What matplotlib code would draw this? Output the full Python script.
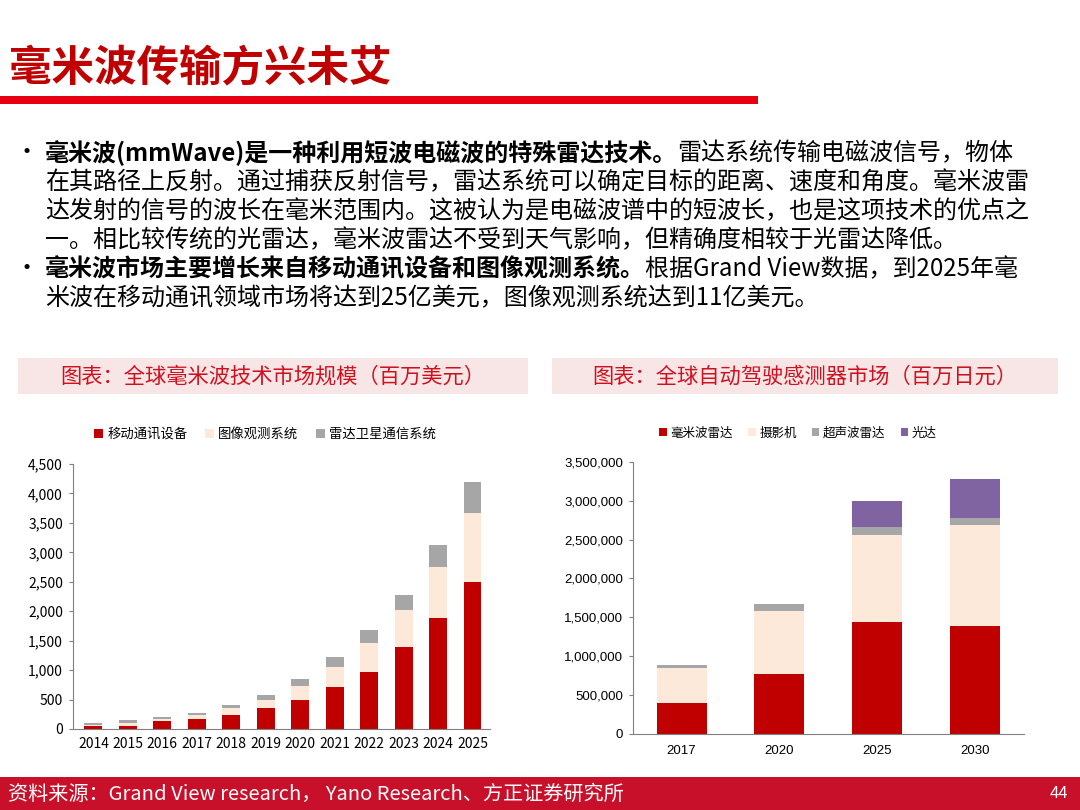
import numpy as np
import matplotlib.pyplot as plt
from matplotlib.patches import Rectangle

plt.rcParams['font.family'] = ['Noto Sans CJK SC', 'DejaVu Sans']

# 左图：全球毫米波技术市场规模（百万美元）
years_l = ['2014', '2015', '2016', '2017', '2018', '2019', '2020', '2021', '2022', '2023', '2024', '2025']
mobile = [45, 55, 130, 165, 245, 360, 500, 715, 975, 1400, 1880, 2490]
imaging = [30, 45, 40, 80, 120, 130, 225, 345, 485, 625, 875, 1180]
radar_sat = [20, 45, 40, 35, 35, 85, 125, 160, 225, 245, 370, 525]
names_l = ['移动通讯设备', '图像观测系统', '雷达卫星通信系统']

# 右图：全球自动驾驶感测器市场（百万日元）
years_r = ['2017', '2020', '2025', '2030']
mmw = [390000, 770000, 1435000, 1390000]
camera = [450000, 810000, 1130000, 1300000]
ultra = [50000, 85000, 95000, 95000]
lidar = [0, 0, 340000, 495000]
names_r = ['毫米波雷达', '摄影机', '超声波雷达', '光达']

RED = '#C00000'
PEACH = '#FDE9D9'
GRAY = '#A6A6A6'
PURPLE = '#8064A2'

fig = plt.figure(figsize=(10.8, 8.1), dpi=100)

# 标题
fig.text(9 / 1080, 1 - 68 / 810, '毫米波传输方兴未艾', fontsize=30.6, fontweight='bold',
         color=RED, va='center', ha='left')
fig.patches.append(Rectangle((0, 1 - 104 / 810), 758 / 1080, 8 / 810,
                             transform=fig.transFigure, color='#E60012', lw=0))

# 正文
fs = 17.3
line_y = [153, 182, 211, 240, 269, 298]
lines = [
    ('毫米波(mmWave)是一种利用短波电磁波的特殊雷达技术。', '雷达系统传输电磁波信号，物体'),
    ('', '在其路径上反射。通过捕获反射信号，雷达系统可以确定目标的距离、速度和角度。毫米波雷'),
    ('', '达发射的信号的波长在毫米范围内。这被认为是电磁波谱中的短波长，也是这项技术的优点之'),
    ('', '一。相比较传统的光雷达，毫米波雷达不受到天气影响，但精确度相较于光雷达降低。'),
    ('毫米波市场主要增长来自移动通讯设备和图像观测系统。', '根据Grand View数据，到2025年毫'),
    ('', '米波在移动通讯领域市场将达到25亿美元，图像观测系统达到11亿美元。'),
]
renderer = fig.canvas.get_renderer()
for y, (b, r) in zip(line_y, lines):
    yf = 1 - y / 810
    x0 = 45
    if b:
        fig.text(15 / 1080, yf, '•', fontsize=fs, va='center', ha='left')
        t = fig.text(x0 / 1080, yf, b, fontsize=fs, fontweight='bold', va='center', ha='left')
        x0 = t.get_window_extent(renderer).x1
    fig.text(x0 / 1080, yf, r, fontsize=fs, va='center', ha='left')

# 图表标题框
for x0, x1, title in [(18, 528, '图表：全球毫米波技术市场规模（百万美元）'),
                      (552, 1058, '图表：全球自动驾驶感测器市场（百万日元）')]:
    fig.patches.append(Rectangle((x0 / 1080, 1 - 394 / 810), (x1 - x0) / 1080, 36 / 810,
                                 transform=fig.transFigure, color='#F8E6E6', lw=0))
    fig.text((x0 + x1) / 2 / 1080, 1 - 377 / 810, title, fontsize=15.3, color='#D0101E',
             ha='center', va='center')

# 左图
ax1 = fig.add_axes([72.7 / 1080, 1 - 729 / 810, 417 / 1080, 265 / 810])
x = np.arange(len(years_l))
w = 0.52
b1 = np.array(mobile)
b2 = b1 + np.array(imaging)
ax1.bar(x, mobile, w, color=RED, label=names_l[0])
ax1.bar(x, imaging, w, bottom=b1, color=PEACH, label=names_l[1])
ax1.bar(x, radar_sat, w, bottom=b2, color=GRAY, label=names_l[2])
ax1.set_ylim(0, 4500)
ax1.set_xlim(-0.6, 11.5)
ax1.set_yticks(np.arange(0, 4501, 500))
ax1.set_yticklabels([f'{v:,}' for v in range(0, 4501, 500)], fontsize=10)
ax1.set_xticks(x)
ax1.set_xticklabels(years_l, fontsize=10)
ax1.tick_params(axis='x', length=0, pad=6)
ax1.tick_params(axis='y', length=3, color='#808080', pad=4)
for s in ['top', 'right']:
    ax1.spines[s].set_visible(False)
for s in ['left', 'bottom']:
    ax1.spines[s].set_color('#808080')
ax1.legend(loc='center', bbox_to_anchor=(265 / 1080, 1 - 434 / 810), bbox_transform=fig.transFigure,
           ncol=3, frameon=False, fontsize=9.6, handlelength=0.7, handleheight=0.7,
           handletextpad=0.3, columnspacing=1.3)

# 右图
ax2 = fig.add_axes([632.7 / 1080, 1 - 733.7 / 810, 391.3 / 1080, 271.7 / 810])
xr = np.arange(len(years_r))
wr = 0.51
c1 = np.array(mmw)
c2 = c1 + np.array(camera)
c3 = c2 + np.array(ultra)
ax2.bar(xr, mmw, wr, color=RED, label=names_r[0])
ax2.bar(xr, camera, wr, bottom=c1, color=PEACH, label=names_r[1])
ax2.bar(xr, ultra, wr, bottom=c2, color=GRAY, label=names_r[2])
ax2.bar(xr, lidar, wr, bottom=c3, color=PURPLE, label=names_r[3])
ax2.set_ylim(0, 3500000)
ax2.set_xlim(-0.5, 3.5)
ticks_r = np.arange(0, 3500001, 500000)
ax2.set_yticks(ticks_r)
ax2.set_yticklabels([f'{v:,}' for v in ticks_r], fontsize=9.5, family='Liberation Sans')
ax2.set_xticks(xr)
ax2.set_xticklabels(years_r, fontsize=9.5, family='Liberation Sans')
ax2.tick_params(axis='x', length=0, pad=8)
ax2.tick_params(axis='y', length=3, color='#808080', pad=4)
for s in ['top', 'right']:
    ax2.spines[s].set_visible(False)
for s in ['left', 'bottom']:
    ax2.spines[s].set_color('#808080')
ax2.legend(loc='center', bbox_to_anchor=(798 / 1080, 1 - 433 / 810), bbox_transform=fig.transFigure,
           ncol=4, frameon=False, fontsize=9, handlelength=0.6, handleheight=0.6,
           handletextpad=0.3, columnspacing=1.2)

# 页脚
fig.patches.append(Rectangle((0, 0), 1, 33 / 810, transform=fig.transFigure, color='#C8102A', lw=0))
fig.text(8 / 1080, 1 - 794 / 810, '资料来源：Grand View research， Yano Research、方正证券研究所',
         fontsize=14.5, color='white', va='center', ha='left')
fig.text(1068 / 1080, 1 - 794 / 810, '44', fontsize=12, color='white', va='center', ha='right')

fig.savefig('out.png', dpi=100)
